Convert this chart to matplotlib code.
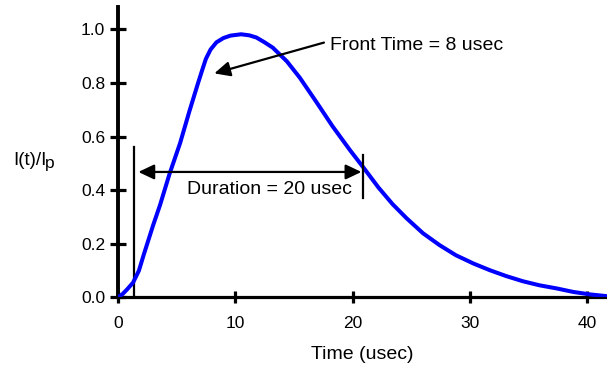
import numpy as np
import matplotlib.pyplot as plt

plt.rcParams["font.family"] = ["Liberation Sans", "DejaVu Sans"]
plt.rcParams["mathtext.default"] = "regular"

t_us = [0, 0.4, 0.8, 1.3, 1.8, 2.2, 3.0, 3.6, 4.4, 5.3, 6.1, 6.8, 7.2, 7.5,
        7.9, 8.4, 9.0, 9.6, 10.5, 11.2, 11.8, 12.5, 13.2, 14.4, 15.5, 16.9,
        18.3, 19.8, 21.0, 22.2, 23.4, 24.6, 26.0, 27.4, 28.8, 30.3, 31.7,
        33.1, 34.5, 35.9, 37.4, 38.8, 40.2, 41.7]
i_norm = [0, 0.012, 0.03, 0.055, 0.10, 0.158, 0.268, 0.345, 0.46, 0.575,
          0.695, 0.795, 0.85, 0.89, 0.925, 0.952, 0.968, 0.977, 0.982, 0.978,
          0.97, 0.952, 0.932, 0.881, 0.82, 0.73, 0.638, 0.548, 0.48, 0.41,
          0.348, 0.295, 0.239, 0.195, 0.157, 0.126, 0.101, 0.079, 0.06,
          0.045, 0.033, 0.02, 0.011, 0.004]

x_ticks = [0, 10, 20, 30, 40]
y_ticks = [0.0, 0.2, 0.4, 0.6, 0.8, 1.0]
y_labels = ["0.0", "0.2", "0.4", "0.6", "0.8", "1.0"]

# duration markers (usec) and front-time arrow
t_start, t_end = 1.35, 20.9
duration_label = "Duration = 20 usec"
front_label = "Front Time = 8 usec"

fig = plt.figure(figsize=(6.07, 3.68), dpi=100)
ax = fig.add_axes([0.1941, 0.1921, 0.8059, 0.789])

ax.plot(t_us, i_norm, color="#0000ff", lw=2.9, solid_capstyle="round",
        solid_joinstyle="round", zorder=3)

ax.set_xlim(0, 41.67)
ax.set_ylim(0, 1.084)
ax.set_xticks(x_ticks)
ax.set_yticks(y_ticks)
ax.set_yticklabels(y_labels)

for side in ("top", "right"):
    ax.spines[side].set_visible(False)
ax.spines["left"].set_linewidth(2.8)
ax.spines["bottom"].set_linewidth(2.3)
ax.tick_params(axis="x", direction="inout", length=9, width=2.3, pad=9,
               labelsize=12.5)
ax.tick_params(axis="y", direction="inout", length=12, width=2.3, pad=3,
               labelsize=12.5)

# duration bracket
ax.plot([t_start, t_start], [0, 0.562], color="black", lw=1.6, zorder=2)
ax.plot([t_end, t_end], [0.37, 0.531], color="black", lw=1.6, zorder=4)
ax.annotate("", xy=(1.75, 0.468), xytext=(20.75, 0.468),
            arrowprops=dict(arrowstyle="<|-|>,head_length=0.95,head_width=0.45",
                            mutation_scale=10, color="black", lw=1.6,
                            shrinkA=0, shrinkB=0))
ax.text(12.9, 0.386, duration_label, ha="center", va="baseline", fontsize=14)

# front time arrow
ax.annotate("", xy=(8.22, 0.836), xytext=(17.56, 0.951),
            arrowprops=dict(arrowstyle="-|>,head_length=0.95,head_width=0.45",
                            mutation_scale=10, color="black", lw=1.6,
                            shrinkA=0, shrinkB=0))
ax.text(18.1, 0.923, front_label, ha="left", va="baseline", fontsize=14)

ax.set_xlabel("Time (usec)", fontsize=14, labelpad=11)

# y label drawn as two pieces so the subscript stays near full size
fig.text(13 / 607, 1 - 165 / 368, "I(t)/I", ha="left", va="baseline",
         fontsize=13.5)
fig.text(45 / 607, 1 - 168.5 / 368, "p", ha="left", va="baseline",
         fontsize=12.5)

fig.savefig("out.png", dpi=100)
